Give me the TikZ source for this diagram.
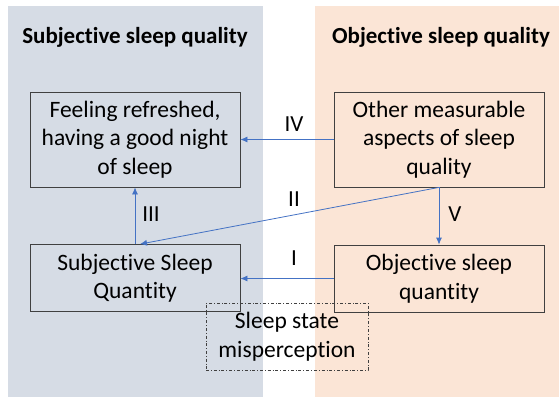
\documentclass[tikz,border=0pt]{standalone}
\usepackage{fontspec}
\setmainfont{Carlito}[RawFeature=-liga]
\usetikzlibrary{arrows.meta}
\definecolor{subjbg}{HTML}{D6DCE5}
\definecolor{objbg}{HTML}{FBE5D6}
\definecolor{linkblue}{HTML}{4472C4}
\definecolor{boxgray}{HTML}{404040}
\tikzset{
  box/.style={draw=boxgray, line width=0.8pt, minimum width=210pt, align=center, inner sep=2pt},
  link/.style={draw=linkblue, line width=0.8pt, -{Latex[length=7pt,width=6pt]}},
  roman/.style={font=\fontsize{23}{28}\selectfont},
  header/.style={font=\fontsize{23}{28}\selectfont\bfseries}
}
\begin{document}
\begin{tikzpicture}[x=1pt,y=1pt,font=\fontsize{23.5}{28.5}\selectfont]
\useasboundingbox (0,0) rectangle (559,397);
% panels
\fill[subjbg] (8,0) rectangle (263,391);
\fill[objbg] (315,0) rectangle (559,391);
\node[header] (subjtitle) at (135,360) {Subjective sleep quality};
\node[header] (objtitle) at (441,360) {Objective sleep quality};

\node[box, minimum height=95pt] (fresh) at (135,257.5) {Feeling refreshed,\\having a good night\\of sleep};
\node[box, minimum height=95pt] (other) at (439,257.5) {Other measurable\\aspects of sleep\\quality};
\node[box, minimum height=67pt] (subjqty) at (135,119) {Subjective Sleep\\Quantity};
\node[box, minimum height=67pt] (objqty) at (439,118.5) {Objective sleep\\quantity};
\node[draw=boxgray, line width=0.7pt, dash dot, minimum width=162pt, minimum height=67pt, align=center] (misperc) at (287,60.5) {Sleep state\\misperception};

\path[link] (other.west) -- (fresh.east);
\path[link] (subjqty.north) -- (fresh.south);
\path[link] (other.south) -- ([xshift=5pt]subjqty.north);
\path[link] (other.south) -- (objqty.north);
\path[link] (objqty.west) -- (objqty.west -| subjqty.east);

\node[roman] (labIV) at (294,273) {IV};
\node[roman] (labIII) at (151,183) {III};
\node[roman] (labII) at (294,198) {II};
\node[roman] (labV) at (455,183) {V};
\node[roman] (labI) at (294,139) {I};
\end{tikzpicture}
\end{document}
